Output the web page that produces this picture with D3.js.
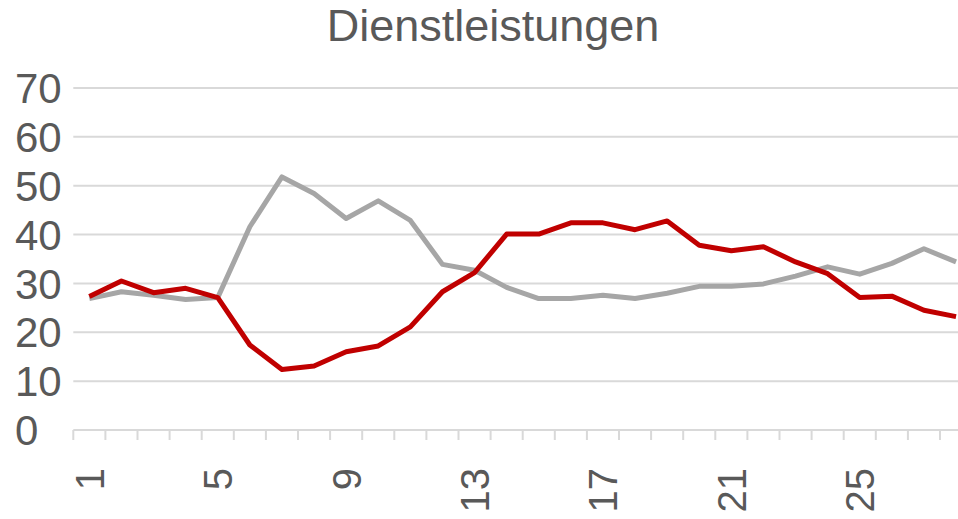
<!DOCTYPE html>
<meta charset="utf-8">
<style>
html, body {
  margin: 0;
  overflow: hidden;
  width: 100%;
  height: 100%;
  background: #fff;
}
text {
  font-family: "Liberation Sans", Arial, sans-serif;
  fill: #595959;
}
</style>
<title>Dienstleistungen</title>
<body>
<script src="https://d3js.org/d3.v7.min.js"></script>
<script>
var width = 958,
    height = 519;

// data
var title = "Dienstleistungen";
var categories = d3.range(1, 29);
var redValues = [27.3, 30.5, 28.1, 29.0, 27.1, 17.4, 12.4, 13.1, 16.0, 17.2, 21.1, 28.3, 32.2, 40.1,
                 40.1, 42.4, 42.4, 41.0, 42.8, 37.8, 36.7, 37.5, 34.4, 32.0, 27.1, 27.4, 24.5, 23.2];
var grayValues = [26.9, 28.3, 27.6, 26.7, 27.1, 41.6, 51.8, 48.4, 43.3, 46.9, 42.9, 33.9, 32.7, 29.2,
                  26.9, 26.9, 27.6, 26.9, 28.0, 29.4, 29.4, 29.9, 31.5, 33.4, 31.9, 34.1, 37.1, 34.4];
var yTicks = [0, 10, 20, 30, 40, 50, 60, 70];
var xLabels = [1, 5, 9, 13, 17, 21, 25];

var plotLeft = 73.3, plotRight = 972.1, plotTop = 88, plotBottom = 430;

var svg = d3.select("body").append("svg")
    .attr("width", width)
    .attr("height", height);

var x = d3.scaleBand()
    .domain(categories)
    .range([plotLeft, plotRight])
    .padding(0);

var y = d3.scaleLinear()
    .domain([0, 70])
    .range([plotBottom, plotTop]);

// gridlines
svg.append("g").selectAll("line")
    .data(yTicks.filter(function(d) { return d > 0; }))
  .enter().append("line")
    .attr("x1", plotLeft)
    .attr("x2", plotRight)
    .attr("y1", function(d) { return y(d); })
    .attr("y2", function(d) { return y(d); })
    .attr("stroke", "#d9d9d9")
    .attr("stroke-width", 2);

// y labels, left aligned
svg.append("g").selectAll("text")
    .data(yTicks)
  .enter().append("text")
    .attr("x", 15)
    .attr("y", function(d) { return y(d); })
    .attr("dy", "0.36em")
    .attr("font-size", 42)
    .text(function(d) { return d; });

// x axis with ticks between categories
var xAxis = svg.append("g").attr("transform", "translate(0," + plotBottom + ")");
xAxis.append("line")
    .attr("x1", plotLeft)
    .attr("x2", plotRight)
    .attr("stroke", "#d9d9d9")
    .attr("stroke-width", 2);
xAxis.selectAll("line.tick")
    .data(categories.concat([29]))
  .enter().append("line")
    .attr("class", "tick")
    .attr("x1", function(d, i) { return plotLeft + i * x.bandwidth(); })
    .attr("x2", function(d, i) { return plotLeft + i * x.bandwidth(); })
    .attr("y1", 0)
    .attr("y2", 10)
    .attr("stroke", "#d9d9d9")
    .attr("stroke-width", 2);

xAxis.selectAll("text")
    .data(xLabels)
  .enter().append("text")
    .attr("transform", function(d) {
      return "translate(" + (x(d) + x.bandwidth() / 2) + ",38) rotate(-90)";
    })
    .attr("text-anchor", "end")
    .attr("dy", "0.36em")
    .attr("font-size", 40)
    .text(function(d) { return d; });

// lines
var line = d3.line()
    .x(function(d, i) { return x(categories[i]) + x.bandwidth() / 2; })
    .y(function(d) { return y(d); });

svg.append("path")
    .datum(grayValues)
    .attr("fill", "none")
    .attr("stroke", "#a6a6a6")
    .attr("stroke-width", 5)
    .attr("stroke-linejoin", "round")
    .attr("d", line);

svg.append("path")
    .datum(redValues)
    .attr("fill", "none")
    .attr("stroke", "#c00000")
    .attr("stroke-width", 5)
    .attr("stroke-linejoin", "round")
    .attr("d", line);

// title
svg.append("text")
    .attr("x", 493)
    .attr("y", 41)
    .attr("text-anchor", "middle")
    .attr("font-size", 45)
    .text(title);
</script>
</body>
